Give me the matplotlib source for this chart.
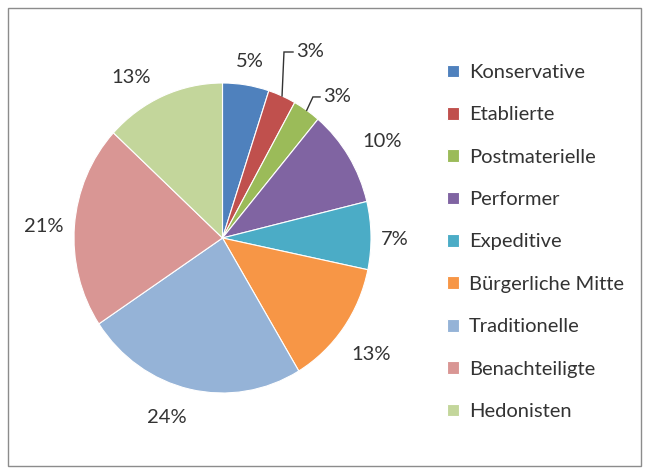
import numpy as np
import matplotlib
matplotlib.use("Agg")
from matplotlib import pyplot as plt
from matplotlib.patches import Rectangle

# Anteile der Milieus
categories = ["Konservative", "Etablierte", "Postmaterielle", "Performer", "Expeditive",
              "Bürgerliche Mitte", "Traditionelle", "Benachteiligte", "Hedonisten"]
shares = [5, 3, 3, 10, 7, 13, 24, 21, 13]
labels = ["5%", "3%", "3%", "10%", "7%", "13%", "24%", "21%", "13%"]
colors = ["#4F81BD", "#C0504D", "#9BBB59", "#8064A2", "#4BACC6",
          "#F79646", "#95B3D7", "#D99694", "#C3D69B"]

plt.rcParams['font.family'] = ['Lato', 'DejaVu Sans']
txt = '#333333'
fs = 14.5

fig = plt.figure(figsize=(6.5, 4.72), dpi=100)
W, H = 650, 472

# pie is slightly stretched vertically in the reference
cx, cy, rx, ry = 222.5, 238, 148.5, 155
hw, hh = 160, 165
ax = fig.add_axes([(cx - hw) / W, (H - cy - hh) / H, 2 * hw / W, 2 * hh / H])

wedges, _ = ax.pie(shares, colors=colors, startangle=90, counterclock=False, radius=1,
                   wedgeprops=dict(edgecolor='white', linewidth=0.8))
ax.set_aspect('auto')
ax.set_xlim(-hw / rx, hw / rx)
ax.set_ylim(-hh / ry, hh / ry)
ax.axis('off')

# label placement: radius and angle shift (deg) from wedge middle
label_r = [1.15, None, None, 1.24, 1.162, 1.253, 1.22, 1.204, 1.202]
label_shift = [0, 0, 0, -1.8, -1.5, -1.5, -5.2, 1.1, 7.1]
# leader lines: (elbow x, elbow y, end x)
leaders = {1: (0.414, 1.20, 0.475), 2: (0.609, 0.91, 0.657)}

for i, w in enumerate(wedges):
    mid = np.deg2rad((w.theta1 + w.theta2) / 2)
    if i in leaders:
        ex, ey, endx = leaders[i]
        px, py = np.cos(mid), np.sin(mid)
        ax.plot([px, ex, endx], [py, ey, ey], color='#333333', lw=1.0,
                solid_joinstyle='miter', clip_on=False)
        ax.text(endx + 0.02, ey, labels[i], ha='left', va='center', fontsize=fs,
                color=txt, clip_on=False)
    else:
        r = label_r[i]
        a = mid + np.deg2rad(label_shift[i])
        ax.text(r * np.cos(a), r * np.sin(a), labels[i], ha='center', va='center',
                fontsize=fs, color=txt, clip_on=False)

leg = fig.legend(wedges, categories, loc='upper left',
                 bbox_to_anchor=(447 / W, 1 - 64 / H), frameon=False,
                 fontsize=fs, labelspacing=1.26, handlelength=0.6, handleheight=0.6,
                 handletextpad=0.5, borderaxespad=0, borderpad=0)
for t in leg.get_texts():
    t.set_color(txt)

# chart frame
fig.patches.append(Rectangle((8 / W, 6 / H), 633 / W, 458 / H, transform=fig.transFigure,
                             fill=False, edgecolor='#8c8c8c', linewidth=1.0))

fig.savefig("out.png", dpi=100, facecolor='white')
